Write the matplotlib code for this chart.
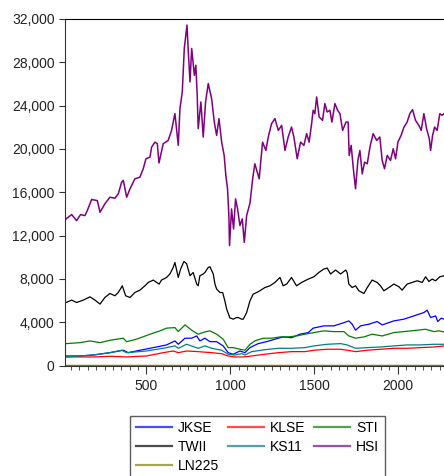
import matplotlib
matplotlib.use("Agg")
import matplotlib.pyplot as plt
from matplotlib.ticker import MultipleLocator, StrMethodFormatter

plt.rcParams["font.family"] = ["Liberation Sans", "DejaVu Sans"]

# (observation, index level) pairs per market
jkse = [(14, 880), (103, 880), (183, 970), (282, 1185), (362, 1410), (391, 1185), (461, 1410),
        (541, 1650), (620, 1900), (670, 2270), (690, 1960), (730, 2520), (770, 2520), (800, 2730),
        (819, 2270), (849, 2520), (879, 2200), (919, 2200), (958, 1810), (988, 1185), (1018, 1040),
        (1058, 1340), (1088, 1185), (1118, 1650), (1167, 2020), (1217, 2200), (1267, 2430),
        (1316, 2640), (1366, 2570), (1416, 2890), (1466, 3040), (1495, 3450), (1559, 3660),
        (1619, 3660), (1679, 3960), (1708, 4120), (1728, 3815), (1748, 3260), (1778, 3660),
        (1828, 3815), (1877, 4060), (1907, 3750), (1977, 4120), (2037, 4280), (2096, 4580),
        (2156, 4890), (2176, 5110), (2196, 4430), (2226, 4580), (2239, 4060), (2259, 4370),
        (2276, 4280)]

klse = [(14, 790), (183, 790), (282, 850), (382, 790), (501, 880), (600, 1185), (660, 1340),
        (690, 1185), (740, 1340), (809, 1280), (889, 1185), (949, 1090), (988, 880), (1028, 790),
        (1078, 790), (1128, 880), (1207, 1040), (1287, 1185), (1366, 1280), (1446, 1280),
        (1500, 1410), (1579, 1500), (1659, 1500), (1698, 1410), (1748, 1280), (1818, 1410),
        (1897, 1500), (1977, 1590), (2056, 1590), (2136, 1650), (2216, 1710), (2276, 1810)]

sti = [(14, 2000), (20, 2020), (103, 2110), (163, 2270), (223, 2110), (282, 2330), (362, 2520),
       (382, 2200), (441, 2430), (521, 2890), (581, 3200), (620, 3450), (670, 3500), (690, 3130),
       (730, 3750), (755, 3450), (770, 3260), (809, 2890), (849, 3100), (879, 3200), (919, 2890),
       (958, 2430), (988, 1650), (1018, 1650), (1058, 1500), (1088, 1410), (1118, 1960),
       (1147, 2270), (1197, 2520), (1247, 2520), (1297, 2640), (1346, 2640), (1396, 2730),
       (1446, 2890), (1500, 3040), (1559, 3200), (1619, 3130), (1679, 3130), (1708, 2730),
       (1748, 2520), (1798, 2640), (1847, 2890), (1907, 2730), (1977, 3040), (2037, 3130),
       (2116, 3260), (2166, 3350), (2216, 3130), (2245, 3200), (2276, 3100)]

twii = [(14, 5900), (20, 5815), (54, 6040), (83, 5815), (123, 6040), (163, 6340), (193, 6040),
        (223, 5670), (252, 6280), (282, 6650), (312, 6440), (332, 6740), (356, 7360), (376, 6440),
        (402, 6280), (431, 6740), (461, 6960), (491, 7360), (511, 7670), (541, 7890), (561, 7670),
        (576, 7520), (590, 7890), (620, 8130), (640, 8450), (660, 9060), (670, 9520), (690, 8130),
        (704, 8910), (724, 9610), (740, 9400), (760, 8290), (779, 8590), (800, 7520), (809, 7360),
        (819, 8290), (839, 8450), (849, 8590), (869, 9060), (879, 9120), (899, 8450), (909, 7520),
        (919, 7060), (939, 6740), (955, 6740), (968, 5970), (979, 5200), (998, 4400), (1018, 4280),
        (1038, 4430), (1048, 4430), (1068, 4280), (1078, 4280), (1098, 4890), (1118, 5970),
        (1137, 6590), (1158, 6740), (1177, 6900), (1207, 7200), (1237, 7360), (1267, 7670),
        (1297, 8130), (1316, 7360), (1337, 7520), (1366, 8130), (1396, 7360), (1426, 7670),
        (1466, 7980), (1500, 8195), (1529, 8590), (1559, 8910), (1579, 9000), (1599, 8450),
        (1629, 8815), (1659, 8450), (1689, 8815), (1698, 8590), (1708, 7520), (1728, 7200),
        (1748, 7360), (1768, 6900), (1798, 6650), (1818, 7200), (1847, 7890), (1877, 7670),
        (1897, 7360), (1917, 6900), (1947, 7200), (1977, 7520), (2007, 7270), (2026, 6960),
        (2056, 7520), (2086, 7670), (2116, 7825), (2146, 7670), (2166, 8195), (2186, 7760),
        (2205, 7980), (2226, 7825), (2251, 8195), (2276, 8290)]

ks11 = [(14, 790), (183, 970), (282, 1185), (352, 1410), (382, 1185), (501, 1340), (600, 1590),
        (670, 1810), (690, 1590), (740, 1960), (809, 1590), (849, 1810), (889, 1590), (949, 1410),
        (988, 1040), (1028, 970), (1068, 1090), (1088, 970), (1128, 1280), (1207, 1460),
        (1287, 1590), (1366, 1590), (1446, 1650), (1500, 1810), (1579, 1960), (1659, 2020),
        (1698, 1900), (1748, 1590), (1818, 1650), (1897, 1710), (1977, 1810), (2056, 1900),
        (2136, 1900), (2216, 1960), (2276, 1960)]

hsi = [(14, 13400), (20, 13540), (54, 13940), (83, 13380), (107, 13940), (133, 13840),
       (147, 14310), (173, 15330), (207, 15230), (223, 14150), (252, 14930), (282, 15540),
       (312, 15450), (332, 15850), (352, 16930), (362, 17100), (382, 15540), (402, 16320),
       (431, 17240), (461, 17390), (481, 18170), (497, 19090), (521, 19250), (531, 20170),
       (551, 20630), (565, 20480), (575, 18700), (600, 20480), (630, 20790), (650, 21710),
       (670, 23260), (690, 20330), (700, 23720), (714, 25260), (726, 29280), (742, 31440),
       (750, 28970), (760, 26190), (770, 29280), (786, 26800), (795, 27730), (803, 24960),
       (809, 21870), (825, 24340), (839, 21100), (853, 24340), (869, 26040), (889, 24650),
       (905, 22480), (919, 21250), (933, 22800), (949, 20630), (964, 19400), (974, 17550),
       (984, 16320), (992, 13840), (996, 11070), (1008, 14460), (1020, 12610), (1032, 15390),
       (1044, 14460), (1058, 12920), (1072, 13540), (1084, 11370), (1098, 13840), (1118, 15000),
       (1134, 17240), (1147, 18630), (1173, 17240), (1193, 20630), (1213, 19860), (1227, 21100),
       (1247, 22340), (1267, 22800), (1287, 21710), (1307, 22180), (1327, 19860), (1346, 21100),
       (1366, 22020), (1380, 21100), (1400, 19090), (1420, 20630), (1440, 20330), (1456, 21410),
       (1471, 20630), (1486, 22340), (1495, 23570), (1505, 23260), (1516, 24800), (1531, 22950),
       (1551, 22640), (1565, 24190), (1579, 23410), (1595, 23570), (1607, 22480), (1625, 24190),
       (1641, 23570), (1655, 23260), (1671, 21710), (1691, 22480), (1704, 22480), (1710, 19400),
       (1722, 20330), (1734, 18320), (1748, 16320), (1762, 18940), (1774, 19860), (1788, 17700),
       (1802, 18780), (1818, 18630), (1834, 20170), (1853, 21410), (1874, 20790), (1893, 21100),
       (1907, 18940), (1921, 18170), (1937, 19400), (1957, 18940), (1973, 20020), (1987, 19090),
       (2001, 20630), (2020, 21250), (2037, 22020), (2056, 22480), (2072, 23260), (2088, 23630),
       (2106, 22640), (2126, 22180), (2140, 21710), (2156, 23260), (2172, 21870), (2188, 20950),
       (2196, 19860), (2208, 21250), (2220, 22020), (2235, 21710), (2251, 23260), (2265, 23100),
       (2276, 23260)]

ln225 = [(14, 9.5), (500, 9.8), (1000, 9.0), (1500, 9.4), (2276, 9.8)]

series = [("JKSE", jkse, "#0000ff"), ("KLSE", klse, "#ff0000"), ("STI", sti, "#008000"),
          ("TWII", twii, "#000000"), ("KS11", ks11, "#008080"), ("HSI", hsi, "#800080"),
          ("LN225", ln225, "#808000")]

fig = plt.figure(figsize=(4.44, 4.76), dpi=100)
ax = fig.add_axes([65 / 444, 1 - 365.5 / 476, 1 - 65 / 444, (365.5 - 19) / 476])

lines = {}
for name, pts, col in series:
    xs, ys = zip(*pts)
    lw = 1.1 if name == "HSI" else 0.9
    lines[name], = ax.plot(xs, ys, color=col, lw=lw, label=name)

ax.set_xlim(14, 2276)
ax.set_ylim(0, 32000)
ax.yaxis.set_major_locator(MultipleLocator(4000))
ax.yaxis.set_major_formatter(StrMethodFormatter("{x:,.0f}"))
ax.xaxis.set_major_locator(MultipleLocator(500))
ax.xaxis.set_minor_locator(MultipleLocator(50))
ax.tick_params(axis="both", which="major", direction="out", labelsize=10, colors="#333333",
               labelcolor="#222222")
ax.tick_params(axis="x", which="major", length=6)
ax.tick_params(axis="x", which="minor", length=3, color="#333333")
ax.tick_params(axis="y", length=4)
ax.spines["right"].set_visible(False)
for s in ("left", "bottom"):
    ax.spines[s].set_color("#333333")
ax.spines["top"].set_color("black")

# row-major legend order for three columns
order = ["JKSE", "TWII", "LN225", "KLSE", "KS11", "STI", "HSI"]
leg = fig.legend([lines[n] for n in order], order, ncol=3, loc="upper left",
                 bbox_to_anchor=(130 / 444, 1 - 415.7 / 476), borderaxespad=0,
                 fontsize=10, frameon=True, fancybox=False, edgecolor="#333333",
                 handlelength=2.6, handletextpad=0.45, columnspacing=0.6,
                 labelspacing=0.35, borderpad=0.4)
for h in leg.legend_handles:
    h.set_alpha(0.7)
    h.set_linewidth(1.6)

fig.savefig("out.png", dpi=100)
